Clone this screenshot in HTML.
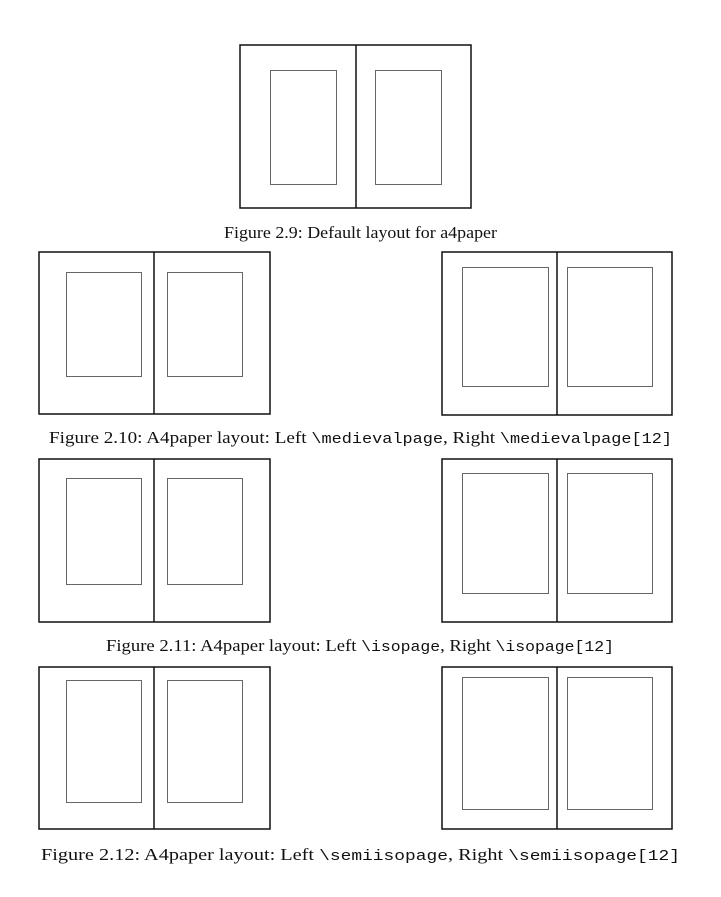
<!DOCTYPE html>
<html><head><meta charset="utf-8"><style>
body{margin:0;background:#fff}
svg{display:block}
text{font-family:"Liberation Serif",serif;font-size:17px;fill:#111}
.m{font-family:"Liberation Mono",monospace;font-size:15px}
</style></head><body>
<svg width="721" height="897" viewBox="0 0 721 897" xmlns="http://www.w3.org/2000/svg">
<g fill="none" stroke="#111" stroke-width="1.5">
<rect x="240" y="45" width="231" height="163"/><line x1="356" y1="45" x2="356" y2="208"/>
<rect x="39" y="252" width="231" height="162"/><line x1="154" y1="252" x2="154" y2="414"/>
<rect x="442" y="252" width="230" height="163"/><line x1="557" y1="252" x2="557" y2="415"/>
<rect x="39" y="459" width="231" height="163"/><line x1="154" y1="459" x2="154" y2="622"/>
<rect x="442" y="459" width="230" height="163"/><line x1="557" y1="459" x2="557" y2="622"/>
<rect x="39" y="667" width="231" height="162"/><line x1="154" y1="667" x2="154" y2="829"/>
<rect x="442" y="667" width="230" height="162"/><line x1="557" y1="667" x2="557" y2="829"/>
</g>
<g fill="none" stroke="#666" stroke-width="1">
<rect x="270.5" y="70.5" width="66" height="114"/><rect x="375.5" y="70.5" width="66" height="114"/>
<rect x="66.5" y="272.5" width="75" height="104"/><rect x="167.5" y="272.5" width="75" height="104"/>
<rect x="462.5" y="267.5" width="86" height="119"/><rect x="567.5" y="267.5" width="85" height="119"/>
<rect x="66.5" y="478.5" width="75" height="106"/><rect x="167.5" y="478.5" width="75" height="106"/>
<rect x="462.5" y="473.5" width="86" height="120"/><rect x="567.5" y="473.5" width="85" height="120"/>
<rect x="66.5" y="680.5" width="75" height="122"/><rect x="167.5" y="680.5" width="75" height="122"/>
<rect x="462.5" y="677.5" width="86" height="132"/><rect x="567.5" y="677.5" width="85" height="132"/>
</g>
<text x="224" y="238" textLength="273" lengthAdjust="spacingAndGlyphs">Figure 2.9: Default layout for a4paper</text>
<text x="49" y="443" textLength="623" lengthAdjust="spacingAndGlyphs">Figure 2.10: A4paper layout: Left <tspan class="m">\medievalpage</tspan>, Right <tspan class="m">\medievalpage[12]</tspan></text>
<text x="106" y="651" textLength="508" lengthAdjust="spacingAndGlyphs">Figure 2.11: A4paper layout: Left <tspan class="m">\isopage</tspan>, Right <tspan class="m">\isopage[12]</tspan></text>
<text x="41" y="860" textLength="639" lengthAdjust="spacingAndGlyphs">Figure 2.12: A4paper layout: Left <tspan class="m">\semiisopage</tspan>, Right <tspan class="m">\semiisopage[12]</tspan></text>
</svg>
</body></html>
